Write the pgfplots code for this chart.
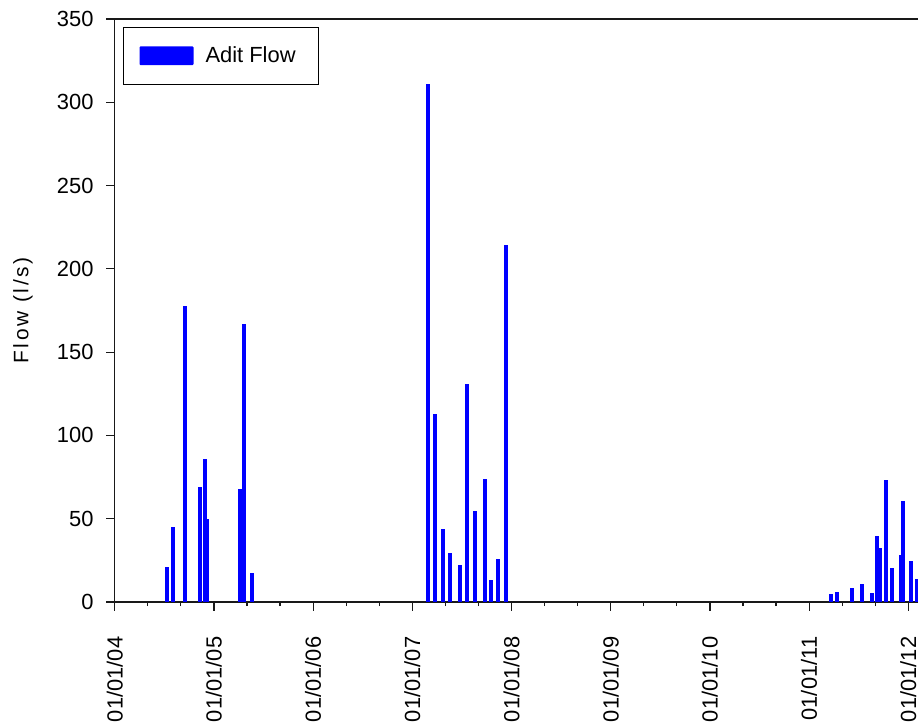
\documentclass[border=0pt]{standalone}
\usepackage{pgfplots}
\pgfplotsset{compat=1.18}
\usepackage{fontspec}
\setmainfont{Liberation Sans}
\newcommand{\lf}{\fontsize{22}{26}\selectfont}
\newfontfamily\labfont[LetterSpace=13]{Liberation Sans}
\begin{document}
\begin{tikzpicture}
\begin{axis}[
  at={(114.7bp,122bp)}, anchor=south west,
  scale only axis, width=823.36bp, height=583bp,
  xmin=0, xmax=8.3, ymin=0, ymax=350,
  xtick={0,1,2,3,4,5,6,7,8},
  xticklabels={01/01/04,01/01/05,01/01/06,01/01/07,01/01/08,01/01/09,01/01/10,01/01/11,01/01/12},
  minor x tick num=2,
  ytick={0,50,100,150,200,250,300,350},
  tick align=outside, xtick pos=bottom, ytick pos=left,
  major tick length=8.5bp, minor tick length=4bp,
  axis line style={line width=1.2bp, black!90},
  tick style={line width=1.2bp, black!90},
  tick label style={font=\lf},
  /pgf/number format/assume math mode=true,
  xticklabel style={rotate=90, anchor=east, inner sep=0pt},
  yticklabel style={inner sep=0pt},
  xticklabel shift=26bp,
  yticklabel shift=12.5bp,
  ylabel={Flow (l/s)},
  ylabel style={font={\labfont\fontsize{21}{25}\selectfont}, at={(axis description cs:-0.1115,0.5)}, anchor=center},
  legend style={at={(0,1)}, anchor=north west, xshift=8.6bp, yshift=-7.7bp,
    draw=black, line width=1bp, inner sep=0pt, column sep=12bp, font=\lf,
    nodes={inner sep=0pt}, cells={anchor=west}},
]
\addplot[ycomb, color=blue, line width=4.3bp,
  legend image code/.code={\path[draw=none,fill=none] (0bp,-28.6bp) rectangle (69.7bp,28.6bp); \fill[blue,draw=none,rounded corners=1bp] (15.7bp,-9.3bp) rectangle (69.7bp,9.3bp);}]
table {
x y
0.524 21
0.588 45
0.706 178
0.857 69
0.910 86
0.933 50
1.263 68
1.300 167
1.381 17.5
3.155 311
3.232 113
3.306 44
3.383 29.5
3.478 22.5
3.554 131
3.632 54.5
3.730 74
3.790 13.3
3.861 26
3.942 214.5
7.218 4.8
7.278 5.8
7.429 8.2
7.530 11
7.631 5.4
7.681 39.8
7.718 32.4
7.775 73
7.833 20.4
7.923 28
7.944 60.6
8.024 24.6
8.085 13.8
};
\addlegendentry{Adit Flow\kern23.3bp}
\end{axis}
\pgfresetboundingbox
\path (0,0) rectangle (918bp,724bp);
\end{tikzpicture}
\end{document}
